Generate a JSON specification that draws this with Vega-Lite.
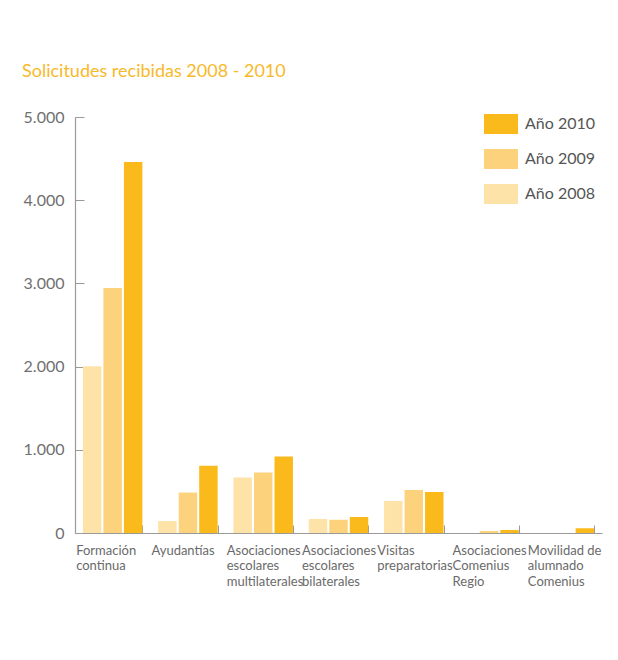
{
  "$schema": "https://vega.github.io/schema/vega-lite/v6.json",
  "autosize": "none",
  "width": 527,
  "height": 416,
  "padding": {"left": 75, "top": 117, "right": 16, "bottom": 127},
  "background": "white",
  "title": {
    "text": "Solicitudes recibidas 2008 - 2010",
    "anchor": "start",
    "frame": "group",
    "dx": -53,
    "offset": 28,
    "font": "Lato",
    "fontSize": 18,
    "fontWeight": "normal",
    "color": "#F8B92A"
  },
  "config": {
    "view": {"stroke": null},
    "font": "Lato"
  },
  "data": {
    "values": [
      {"cat": "Formación|continua", "year": "Año 2008", "v": 2005},
      {"cat": "Formación|continua", "year": "Año 2009", "v": 2945},
      {"cat": "Formación|continua", "year": "Año 2010", "v": 4460},
      {"cat": "Ayudantías", "year": "Año 2008", "v": 144},
      {"cat": "Ayudantías", "year": "Año 2009", "v": 486},
      {"cat": "Ayudantías", "year": "Año 2010", "v": 808},
      {"cat": "Asociaciones|escolares|multilaterales", "year": "Año 2008", "v": 668},
      {"cat": "Asociaciones|escolares|multilaterales", "year": "Año 2009", "v": 728},
      {"cat": "Asociaciones|escolares|multilaterales", "year": "Año 2010", "v": 920},
      {"cat": "Asociaciones|escolares|bilaterales", "year": "Año 2008", "v": 168},
      {"cat": "Asociaciones|escolares|bilaterales", "year": "Año 2009", "v": 158},
      {"cat": "Asociaciones|escolares|bilaterales", "year": "Año 2010", "v": 192},
      {"cat": "Visitas|preparatorias", "year": "Año 2008", "v": 385},
      {"cat": "Visitas|preparatorias", "year": "Año 2009", "v": 517},
      {"cat": "Visitas|preparatorias", "year": "Año 2010", "v": 493},
      {"cat": "Asociaciones|Comenius|Regio", "year": "Año 2008", "v": 0},
      {"cat": "Asociaciones|Comenius|Regio", "year": "Año 2009", "v": 24},
      {"cat": "Asociaciones|Comenius|Regio", "year": "Año 2010", "v": 36},
      {"cat": "Movilidad de|alumnado|Comenius", "year": "Año 2008", "v": 0},
      {"cat": "Movilidad de|alumnado|Comenius", "year": "Año 2009", "v": 0},
      {"cat": "Movilidad de|alumnado|Comenius", "year": "Año 2010", "v": 58}
    ]
  },
  "mark": {"type": "bar"},
  "encoding": {
    "x": {
      "field": "cat",
      "type": "nominal",
      "sort": null,
      "scale": {"paddingInner": 0.21, "paddingOuter": 0.105},
      "axis": {
        "title": null,
        "labelAngle": 0,
        "labelAlign": "left",
        "labelBaseline": "top",
        "labelOffset": -37,
        "labelPadding": 19,
        "labelExpr": "isValid(datum.value) ? split(datum.value, '|') : ''",
        "labelFont": "Lato",
        "labelFontSize": 13,
        "labelLineHeight": 15.5,
        "labelColor": "#6a6a6a",
        "labelLimit": 200,
        "labelOverlap": false,
        "tickBand": "extent",
        "tickSize": -8,
        "tickColor": "#9a9a9a",
        "domainColor": "#9a9a9a",
        "domainWidth": 1.2,
        "grid": false
      }
    },
    "xOffset": {
      "field": "year",
      "type": "nominal",
      "sort": ["Año 2008", "Año 2009", "Año 2010"],
      "scale": {"paddingInner": 0.1}
    },
    "y": {
      "field": "v",
      "type": "quantitative",
      "scale": {"domain": [0, 5000]},
      "axis": {
        "title": null,
        "values": [0, 1000, 2000, 3000, 4000, 5000],
        "labelExpr": "replace(format(datum.value, ','), ',', '.')",
        "labelFont": "Lato",
        "labelFontSize": 16,
        "labelColor": "#707070",
        "labelPadding": 20,
        "tickSize": -9,
        "tickColor": "#9a9a9a",
        "domainColor": "#9a9a9a",
        "domainWidth": 1.2,
        "grid": false
      }
    },
    "color": {
      "field": "year",
      "type": "nominal",
      "scale": {
        "domain": ["Año 2010", "Año 2009", "Año 2008"],
        "range": ["#FBBA1C", "#FDD27C", "#FEE3A8"]
      },
      "legend": {
        "title": null,
        "orient": "none",
        "legendX": 416,
        "legendY": -3,
        "symbolType": "M-1.7,-1H1.7V1H-1.7Z",
        "symbolSize": 400,
        "symbolStrokeWidth": 0,
        "symbolOpacity": 1,
        "rowPadding": 15,
        "labelFont": "Lato",
        "labelFontSize": 16,
        "labelColor": "#555555",
        "labelOffset": 14
      }
    }
  }
}
